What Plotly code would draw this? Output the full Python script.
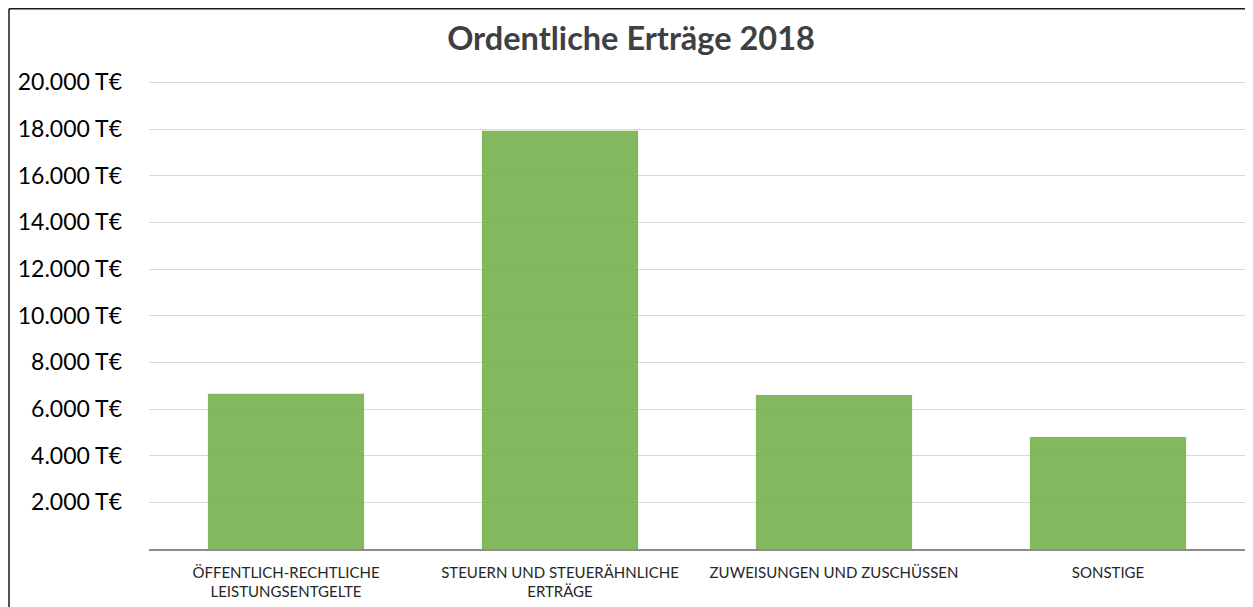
import plotly.graph_objects as go

categories = ["ÖFFENTLICH-RECHTLICHE<br>LEISTUNGSENTGELTE",
              "STEUERN UND STEUERÄHNLICHE<br>ERTRÄGE",
              "ZUWEISUNGEN UND ZUSCHÜSSEN",
              "SONSTIGE"]
ertraege = [6650, 17920, 6600, 4800]

tick_values = [2000, 4000, 6000, 8000, 10000, 12000, 14000, 16000, 18000, 20000]
tick_labels = ["2.000 T€", "4.000 T€", "6.000 T€", "8.000 T€", "10.000 T€",
               "12.000 T€", "14.000 T€", "16.000 T€", "18.000 T€", "20.000 T€"]

W, H = 1245, 599
L, R, T, B = 141, 8, 72, 58
plot_w, plot_h = W - L - R, H - T - B

fig = go.Figure(
    data=go.Bar(x=categories, y=ertraege, width=0.57,
                marker={"color": "rgba(112,173,71,0.87)", "line": {"width": 0}}))

fig.update_layout(
    width=W, height=H,
    margin={"l": L, "r": R, "t": T, "b": B},
    paper_bgcolor="white", plot_bgcolor="white",
    font={"family": "Lato, Calibri, sans-serif", "color": "#262626"},
    title={"text": "<b>Ordentliche Erträge 2018</b>", "x": 623 / W, "xref": "container",
           "xanchor": "center", "y": 1 - 31 / H, "yref": "container", "yanchor": "middle",
           "font": {"size": 32.5, "color": "#404040", "family": "Lato, Calibri, sans-serif"}},
    showlegend=False,
)

fig.update_yaxes(range=[0, 20100], tickvals=tick_values, ticktext=tick_labels,
                 showgrid=True, gridcolor="#d9d9d9", gridwidth=1,
                 zeroline=False, showline=False, ticklabelstandoff=26,
                 tickfont={"size": 23, "color": "#000000"})
fig.update_xaxes(showline=True, linecolor="#8c8c8c", linewidth=1.5,
                 ticklabelstandoff=9, tickfont={"size": 15, "color": "#262626"})

# Rahmen (nur links und oben sichtbar)
left = (1 - L) / plot_w
top = (H - B - 0.75) / plot_h
fig.add_shape(type="line", xref="paper", yref="paper",
              x0=left, x1=left, y0=-0.2, y1=top,
              line={"color": "#1a1a1a", "width": 1.5})
fig.add_shape(type="line", xref="paper", yref="paper",
              x0=left, x1=1.05, y0=top, y1=top,
              line={"color": "#1a1a1a", "width": 1.5})

fig.write_html("out.html")
